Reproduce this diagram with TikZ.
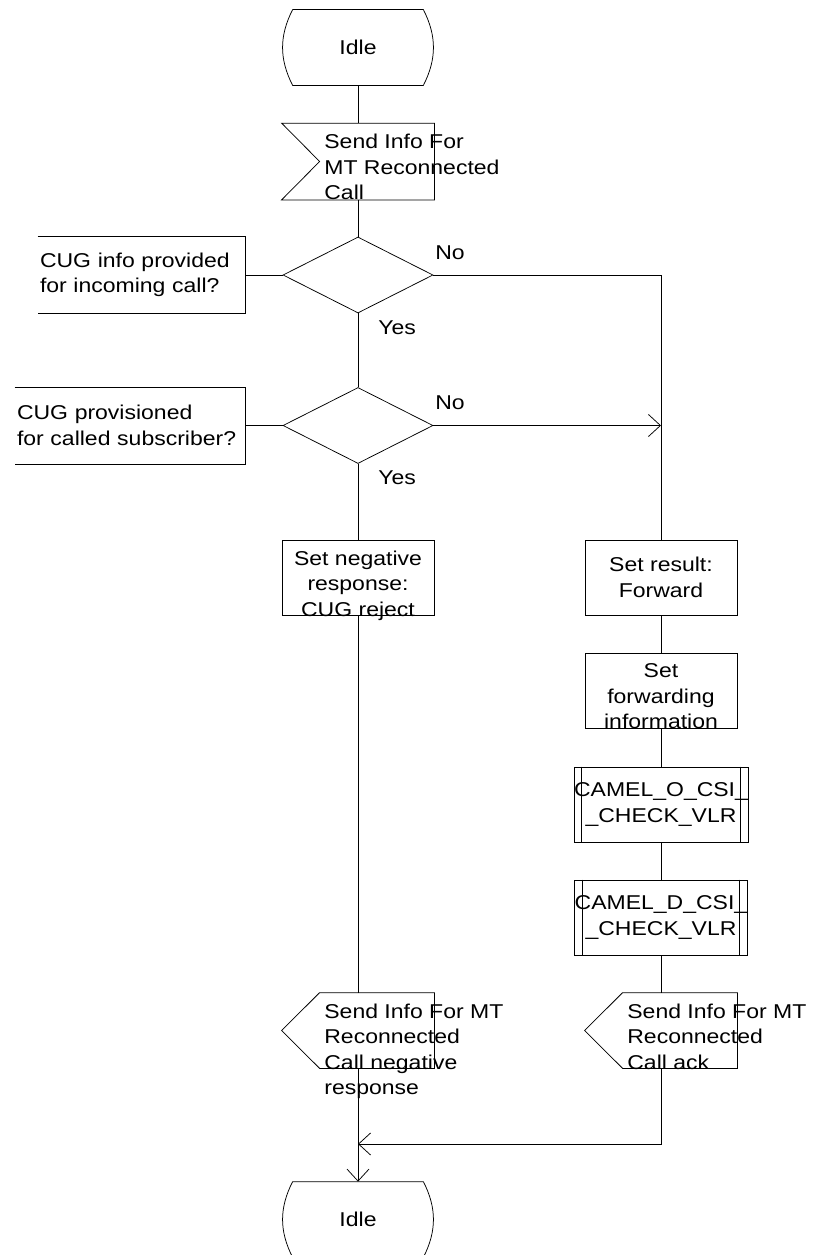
\documentclass[tikz,border=0pt]{standalone}
\usepackage{fontspec}
\setmainfont[FakeStretch=1.15]{Liberation Sans}
\usepackage{tikz}
\usetikzlibrary{shapes.geometric, arrows.meta}

\begin{document}
\begin{tikzpicture}[x=1pt, y=-1pt, line width=0.75pt,
    >={Straight Barb[length=12pt, width=22pt]},
    every node/.style={font=\fontsize{20}{25.5}\selectfont, inner sep=0pt},
    box/.style={draw, minimum width=152pt, minimum height=75pt, align=center},
    state/.style={minimum width=130pt, minimum height=75pt},
    sig/.style={minimum width=152pt, minimum height=76pt},
    test/.style={draw, diamond, minimum width=150pt, minimum height=76pt},
    note/.style={minimum height=76pt, align=left, inner xsep=2pt}]
    \useasboundingbox (0,0) rectangle (814,1255);

    \node[state] (idle1) at (358,47.5) {Idle};
    \draw (idle1.north west) -- (idle1.north east) to[bend left=27] (idle1.south east) -- (idle1.south west) to[bend left=27] (idle1.north west);

    \node[sig] (recv) at (358,161.5) {};
    \draw (recv.north west) -- (recv.north east) -- (recv.south east) -- (recv.south west) -- ([xshift=38pt]recv.west) -- cycle;
    \node[anchor=north west, align=left] (recvtxt) at (324,133.7) {Send Info For\\MT Reconnected\\Call};

    \node[test] (dec1) at (358,275) {};
    \node[note, text width=203pt] (c1) at (141.5,275) {CUG info provided\\for incoming call?};
    \draw (c1.north west) -- (c1.north east) -- (c1.south east) -- (c1.south west);

    \node[test] (dec2) at (358,425.5) {};
    \node[note, text width=226pt] (c2) at (130,425.5) {CUG provisioned\\for called subscriber?};
    \draw (c2.north west) -- (c2.north east) -- (c2.south east) -- (c2.south west);

    \node[anchor=base west] (no1) at (435,259) {No};
    \node[anchor=base west] (yes1) at (378,334.5) {Yes};
    \node[anchor=base west] (no2) at (435,409) {No};
    \node[anchor=base west] (yes2) at (378,484.5) {Yes};

    \node[box] (neg) at (358,577.5) {};
    \node[anchor=north, align=center] (negtxt) at (358,550.4) {Set negative\\response:\\CUG reject};

    \node[box] (res) at (661,577.5) {Set result:\\Forward};
    \node[box] (fwd) at (661,690.5) {};
    \node[anchor=north, align=center] (fwdtxt) at (661,663.4) {Set\\forwarding\\information};

    \node[box] (camO) at (661,804.5) {CAMEL\_O\_CSI\_\\\_CHECK\_VLR};
    \draw ([xshift=8pt]camO.north west) -- ([xshift=8pt]camO.south west);
    \draw ([xshift=-8pt]camO.north east) -- ([xshift=-8pt]camO.south east);
    \node[box] (camD) at (661,917.5) {CAMEL\_D\_CSI\_\\\_CHECK\_VLR};
    \draw ([xshift=8pt]camD.north west) -- ([xshift=8pt]camD.south west);
    \draw ([xshift=-8pt]camD.north east) -- ([xshift=-8pt]camD.south east);

    \node[sig, minimum height=75pt] (sendneg) at (358,1030.5) {};
    \draw ([xshift=38pt]sendneg.north west) -- (sendneg.north east) -- (sendneg.south east) -- ([xshift=38pt]sendneg.south west) -- (sendneg.west) -- cycle;
    \node[anchor=north west, align=left] (sendnegtxt) at (324,1003.4) {Send Info For MT\\Reconnected\\Call negative\\response};

    \node[sig, minimum height=75pt] (sendack) at (661,1030.5) {};
    \draw ([xshift=38pt]sendack.north west) -- (sendack.north east) -- (sendack.south east) -- ([xshift=38pt]sendack.south west) -- (sendack.west) -- cycle;
    \node[anchor=north west, align=left] (sendacktxt) at (627,1003.4) {Send Info For MT\\Reconnected\\Call ack};

    \node[state] (idle2) at (358,1219.5) {Idle};
    \draw (idle2.north west) -- (idle2.north east) to[bend left=27] (idle2.south east) -- (idle2.south west) to[bend left=27] (idle2.north west);

    \coordinate (join) at (358,1144);

    \draw (idle1) -- (recv);
    \draw (recv) -- (dec1);
    \draw (c1.east) -- (dec1.west);
    \draw (dec1) -- (dec2);
    \draw (c2.east) -- (dec2.west);
    \draw (dec1.east) -| (res.north);
    \draw[->] (dec2.east) -- (dec2.east -| res.north);
    \draw (dec2) -- (neg);
    \draw (neg) -- (sendneg);
    \draw[->] (sendneg) -- (idle2);
    \draw (res) -- (fwd);
    \draw (fwd) -- (camO);
    \draw (camO) -- (camD);
    \draw (camD) -- (sendack);
    \draw[->] (sendack.south) |- (join);
\end{tikzpicture}
\end{document}
